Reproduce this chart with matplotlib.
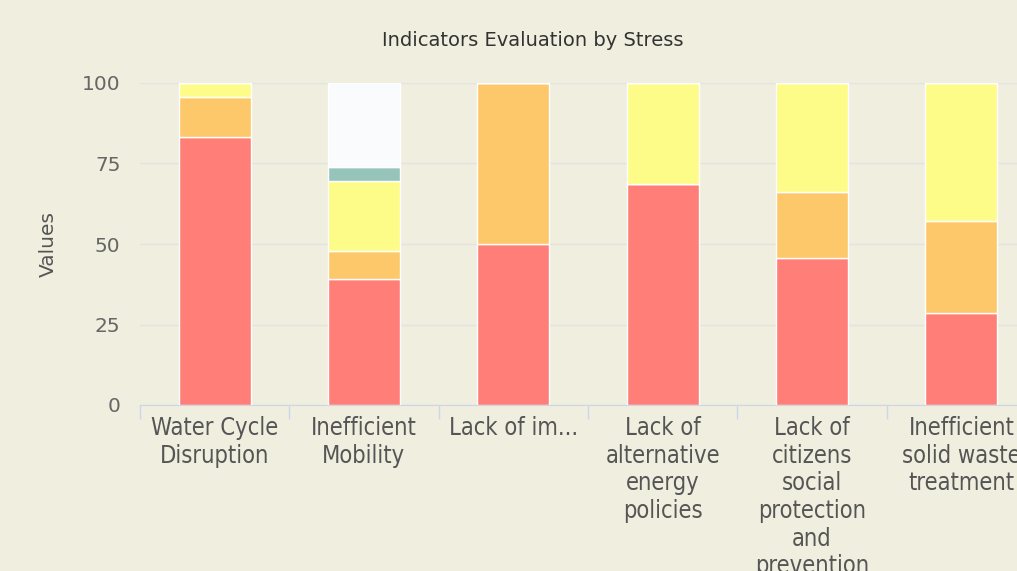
import matplotlib.pyplot as plt
import numpy as np

categories = ['Water Cycle\nDisruption', 'Inefficient\nMobility', 'Lack of im...',
              'Lack of\nalternative\nenergy\npolicies',
              'Lack of\ncitizens\nsocial\nprotection\nand\nprevention',
              'Inefficient\nsolid waste\ntreatment']

# stacked segments, bottom to top
red = [83.3, 39.1, 50.0, 68.75, 45.5, 28.6]
orange = [12.5, 8.7, 50.0, 0, 20.5, 28.5]
yellow = [4.2, 21.7, 0, 31.25, 34.0, 42.9]
teal = [0, 4.3, 0, 0, 0, 0]
white = [0, 26.2, 0, 0, 0, 0]

series = [red, orange, yellow, teal, white]
colors = ['#FF7F78', '#FDC869', '#FEFC88', '#96C4BA', '#FAFBFD']

bg = '#F0EEDE'
fig = plt.figure(figsize=(10.17, 5.71), dpi=100, facecolor=bg)
# plot area runs past the right edge like the clipped original
ax = fig.add_axes([140 / 1017, 1 - 405 / 571, 896 / 1017, 322 / 571])
ax.set_facecolor(bg)

x = np.arange(len(categories))
bottom = np.zeros(len(categories))
for vals, c in zip(series, colors):
    vals = np.array(vals)
    ax.bar(x, vals, width=0.48, bottom=bottom, color=c, edgecolor='white',
           linewidth=1, zorder=3)
    bottom += vals

ax.set_xlim(-0.5, len(categories) - 0.5)
ax.set_ylim(0, 100)
ax.set_yticks([0, 25, 50, 75, 100])
ax.grid(axis='y', color='#E3E3E3', linewidth=1, zorder=0)
for s in ['top', 'right', 'left']:
    ax.spines[s].set_visible(False)
ax.spines['bottom'].set_color('#CCD6EB')

ax.set_xticks(x)
ax.set_xticklabels(categories, fontsize=17, color='#555555', fontstretch='condensed',
                   linespacing=1.19, va='top')
ax.tick_params(axis='x', length=0, pad=8)
ax.set_xticks(np.arange(-0.5, len(categories)), minor=True)
ax.tick_params(axis='x', which='minor', length=10, color='#CCD6EB', width=1)
ax.tick_params(axis='y', length=0, labelsize=14.5, labelcolor='#666666', pad=14)

ax.set_ylabel('Values', fontsize=14.5, color='#555555', labelpad=17)
fig.text(533 / 1017, 1 - 40 / 571, 'Indicators Evaluation by Stress', fontsize=14,
         color='#333333', ha='center', va='center')

fig.savefig('out.png', dpi=100, facecolor=bg)
